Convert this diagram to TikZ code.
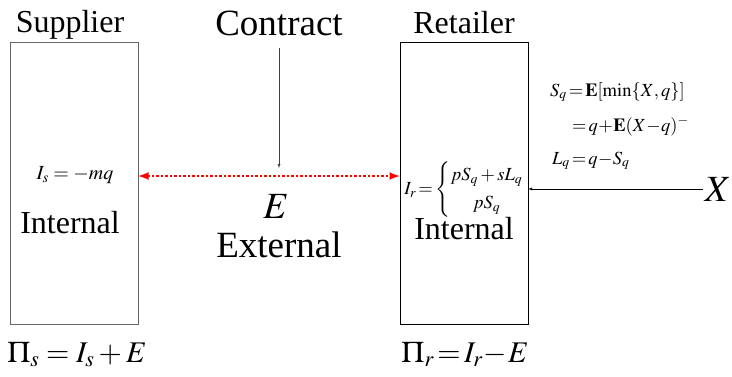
\documentclass[tikz,border=0pt]{standalone}
\usepackage{amsmath}
\usepackage{mathptmx}
\usepackage[no-math]{fontspec}
\setmainfont{Liberation Serif}
\usetikzlibrary{positioning,arrows}
\tikzset{>=latex}
\tikzset{
  agent/.style={draw, minimum width=128pt, minimum height=282pt, inner sep=0pt},
  bigtext/.style={font=\rmfamily\fontsize{32}{36}\selectfont, inner sep=0pt, anchor=base},
  hugetext/.style={font=\rmfamily\fontsize{37}{42}\selectfont, inner sep=0pt, anchor=base},
  smalltext/.style={font=\fontsize{20}{24}\selectfont, inner sep=0pt},
  eqtext/.style={font=\fontsize{18.5}{22}\selectfont, inner sep=0pt, anchor=base west},
  pitext/.style={font=\fontsize{30}{34}\selectfont, inner sep=0pt, anchor=base},
}

\begin{document}
\begin{tikzpicture}[x=1pt,y=-1pt]
  \useasboundingbox (0,0) rectangle (732,376);
  % the two firms
  \node[agent, draw=black!60] (sup) at (74,183) {};
  \node[agent] (ret) at (464,183) {};
  \node[bigtext] (suplbl) at (70,32) {Supplier};
  \node[bigtext] (retlbl) at (464,33) {Retailer};
  \node[hugetext] (con) at (279,35) {Contract};
  \coordinate (contop) at (279,48);
  \coordinate (conend) at (279,168);
  \draw[->, black!75] (contop) -- (conend);
  % inside the boxes
  \node[smalltext, anchor=base] (is) at (75,179) {$I_s=-mq$};
  \node[bigtext] (intsup) at (70,233) {Internal};
  \node[eqtext, anchor=center] (ir) at (464,190)
    {$I_r\mkern-2mu=\mkern-1mu\left\{\begin{array}{@{}c@{}} pS_q+sL_q\\[6pt] pS_q\end{array}\right.$};
  \node[bigtext] (intret) at (464,239) {Internal};
  % between them
  \node[hugetext] (e) at (276,218) {$E$};
  \node[hugetext] (ext) at (279,257) {External};
  \draw[<->, red, line width=2.5pt, dash pattern=on 2.5pt off 2pt] ([yshift=7pt]sup.east) -- ([yshift=7pt]ret.west);
  % demand
  \node[eqtext] (sq) at (550,96) {$S_q\mkern-2mu=\mkern-2mu\mathbf{E}[\min\{X,q\}]$};
  \node[eqtext] (sqb) at (572,131) {$=\mkern-2mu q\mkern-2mu+\mkern-2mu\mathbf{E}(X\mkern-2mu-\mkern-2mu q)^-$};
  \node[eqtext] (lq) at (552,164) {$L_q\mkern-2mu=\mkern-2mu q\mkern-2mu-\mkern-2mu S_q$};
  \node[hugetext] (x) at (718,201) {$X$};
  \draw[->] ([xshift=-2pt]x.west) -- (x.west -| ret.east);
  % profits
  \node[pitext] (pis) at (77,362) {$\Pi_s=I_s+E$};
  \node[pitext] (pir) at (465,362) {$\Pi_r\mkern-2mu=\mkern-2mu I_r\mkern-2mu-\mkern-2mu E$};
\end{tikzpicture}
\end{document}
